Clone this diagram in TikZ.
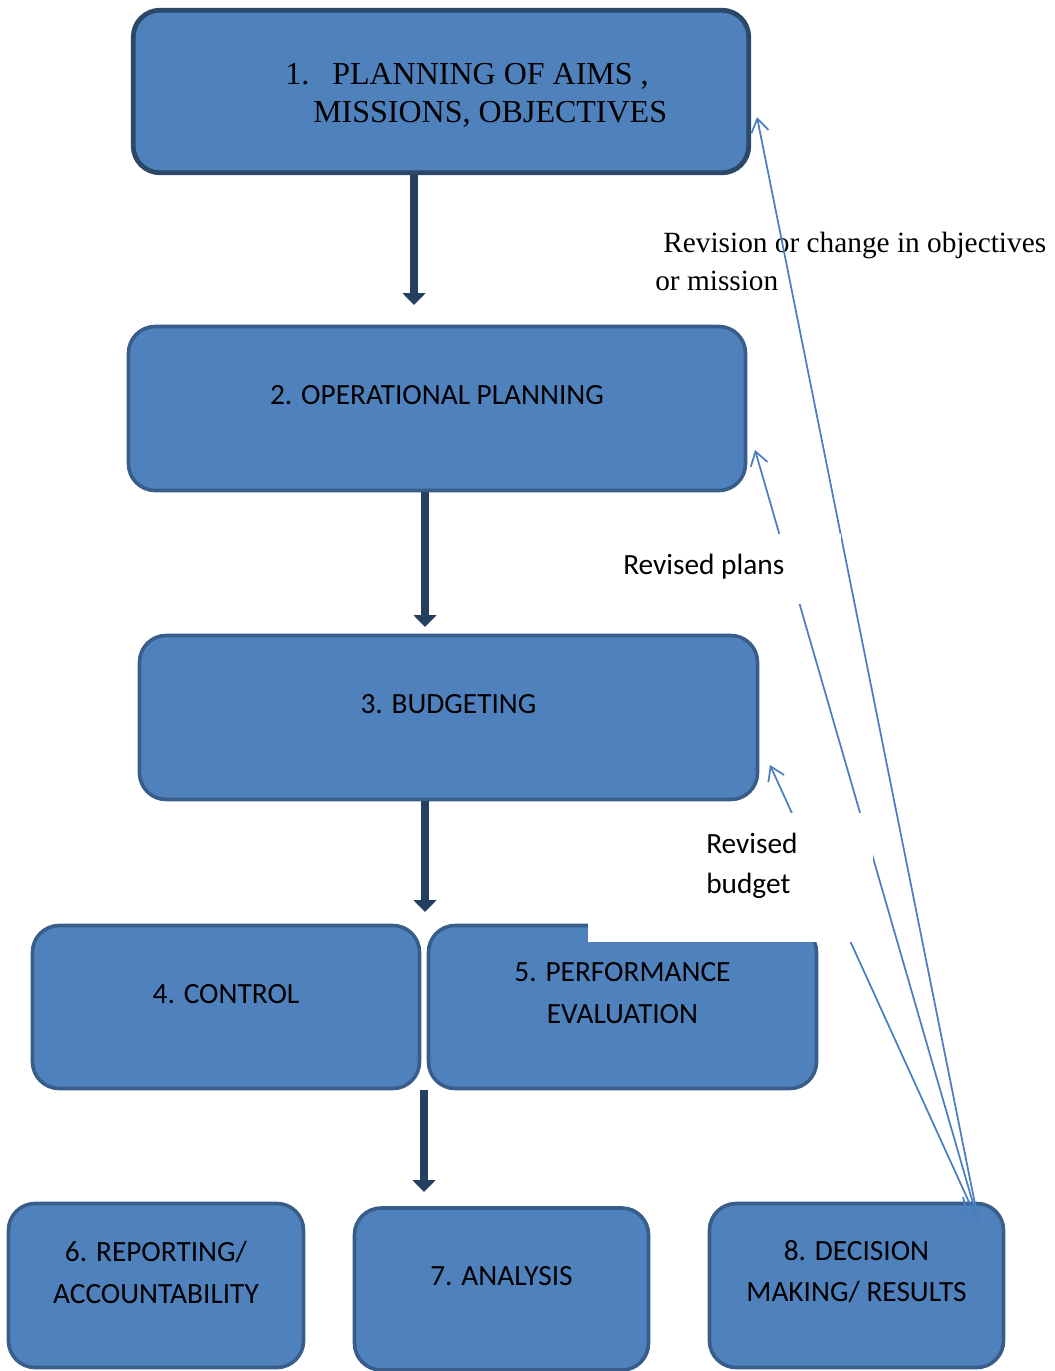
\documentclass[tikz,border=0pt]{standalone}
\usepackage{fontspec}
\setmainfont{Liberation Serif}
\newfontfamily\calibri{Carlito}
\usetikzlibrary{arrows.meta}
\definecolor{boxfill}{HTML}{4F81BD}
\definecolor{boxline}{HTML}{385D8A}
\definecolor{topline}{HTML}{2B4869}
\definecolor{flowdark}{HTML}{243F60}
\definecolor{feedback}{HTML}{4A7EC1}

\begin{document}
\begin{tikzpicture}[x=0.75pt,y=-0.75pt,
  stage/.style={draw=boxline, line width=2.7pt, fill=boxfill, rounded corners=20pt, inner sep=0pt},
  flow/.style={draw=flowdark, line width=5.8pt, -{Triangle[length=9pt,width=17pt]}},
  revise/.style={draw=feedback, line width=1.3pt, -{Straight Barb[length=10pt,width=13pt]}},
  sans/.style={font=\calibri\fontsize{22}{26}\selectfont, inner sep=0pt, anchor=base},
  serif/.style={font=\fontsize{22}{26}\selectfont, inner sep=0pt, anchor=base west},
  bigserif/.style={font=\fontsize{24}{28}\selectfont, inner sep=0pt, anchor=base west}
]
\useasboundingbox (0,0) rectangle (1055,1371);

% stage boxes
\node[stage, draw=topline, line width=3.6pt, minimum width=461.6pt, minimum height=121.9pt] (b1) at (441,91.5) {};
\node[stage, minimum width=462.75pt, minimum height=123pt] (b2) at (437,408.5) {};
\node[stage, minimum width=463.5pt, minimum height=123pt] (b3) at (448.5,717.5) {};
\node[stage, minimum width=290.25pt, minimum height=122.25pt] (b4) at (226,1007) {};
\node[stage, minimum width=291pt, minimum height=122.25pt] (b5) at (622.5,1007) {};
\node[stage, minimum width=221.25pt, minimum height=123pt] (b6) at (156,1285.5) {};
\node[stage, minimum width=220.5pt, minimum height=121.5pt] (b7) at (501.5,1289) {};
\node[stage, minimum width=220.5pt, minimum height=123pt] (b8) at (856.5,1285.5) {};

% main flow
\coordinate (a1) at (414,305);
\coordinate (a2) at (425,627);
\coordinate (a3) at (425,912);
\coordinate (a4) at (424,1192);
\draw[flow] (b1.south -| a1) -- (a1);
\draw[flow] (b2.south -| a2) -- (a2);
\draw[flow] (b3.south -| a3) -- (a3);
\draw[flow] (b4.south -| a4) -- (a4);

% label under the long feedback line
\node[serif] (lab1a) at (663,252) {Revision or change in objectives};
\node[serif] (lab1b) at (655,290) {or mission};

% feedback lines from decision making
\coordinate (fb) at (979,1224);
\coordinate (r1) at (757,117);
\coordinate (r2) at (755,450);
\coordinate (r3) at (770,765);
\draw[revise] (fb) -- (r1);
\draw[revise] (fb) -- (r2);
\draw[revise] (fb) -- (r3);
\draw[draw=feedback, line width=1.3pt] (950,1211) -- (968,1215) -- (963,1197);

% white text frames
\fill[white] (620,534) rectangle (841,604);
\fill[white] (588,813) rectangle (873,942);

% box texts
\node[bigserif] at (285,84) {1.};
\node[bigserif] (t1a) at (332,84) {PLANNING OF AIMS ,};
\node[bigserif] (t1b) at (313,122) {MISSIONS, OBJECTIVES};
\node[sans] at (437,404) {2. OPERATIONAL PLANNING};
\node[sans] at (448.5,713) {3. BUDGETING};
\node[sans] at (226,1003) {4. CONTROL};
\node[sans] at (622.5,981) {5. PERFORMANCE};
\node[sans] at (622.5,1023) {EVALUATION};
\node[sans] at (156,1261) {6. REPORTING/};
\node[sans] at (156,1303) {ACCOUNTABILITY};
\node[sans] at (501.5,1285) {7. ANALYSIS};
\node[sans] at (856.5,1260) {8. DECISION};
\node[sans] at (856.5,1301) {MAKING/ RESULTS};

% feedback labels
\node[sans, anchor=base west] (lab2) at (623,574) {Revised plans};
\node[sans, anchor=base west] (lab3a) at (706,853) {Revised};
\node[sans, anchor=base west] (lab3b) at (706,893) {budget};
\end{tikzpicture}
\end{document}
